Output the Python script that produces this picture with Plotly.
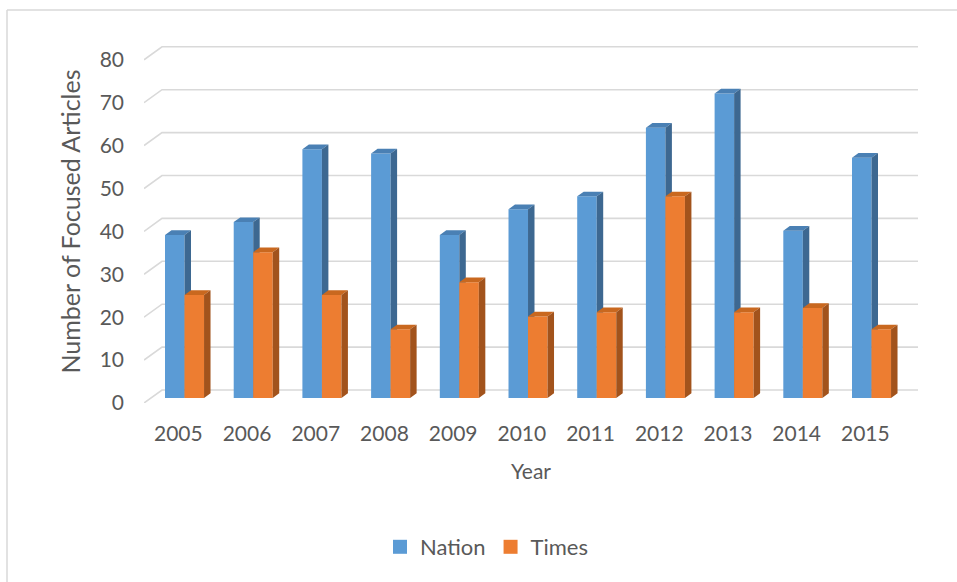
import plotly.graph_objects as go

# ---------------- data ----------------
years = ["2005", "2006", "2007", "2008", "2009", "2010", "2011", "2012", "2013", "2014", "2015"]
nation = [38, 41, 58, 57, 38, 44, 47, 63, 71, 39, 56]
times = [24, 34, 24, 16, 27, 19, 20, 47, 20, 21, 16]
y_ticks = [0, 10, 20, 30, 40, 50, 60, 70, 80]

# ---------------- geometry (styling) ----------------
W, H = 957, 582
PX_CAT = 68.7      # pixels per category
PX_UNIT = 4.29     # pixels per value unit
DEPTH_X, DEPTH_Y = 18.0, 13.0   # oblique offset of full depth (pixels)
PLOT_L, PLOT_R = 144, 918
PLOT_T, PLOT_B = 40, 403

def shift(d):
    return DEPTH_X * d / PX_CAT, DEPTH_Y * d / PX_UNIT

D_FRONT, D_BACK = 0.385, 0.745
fx, fy = shift(D_FRONT)
bx, by = shift(D_BACK)
ddx, ddy = bx - fx, by - fy
BW = 0.284
LEFT_OFF = fx - 0.295

x_min = -0.5
x_max = x_min + (PLOT_R - PLOT_L) / PX_CAT
y_max = (PLOT_B - PLOT_T) / PX_UNIT

FONT = "Lato"
TXT = "#595959"
GRID = "#d9d9d9"

fig = go.Figure()

# gridlines: side wall diagonal + back wall line
wx, wy = shift(1.0)
gx, gy = [], []
for t in y_ticks:
    gx += [x_min, x_min + wx, x_max, None]
    gy += [t, t + wy, t + wy, None]
fig.add_trace(go.Scatter(x=gx, y=gy, mode="lines", line=dict(color=GRID, width=1.6),
                         hoverinfo="skip", showlegend=False))


def faces(values, series_idx):
    front_x, front_y, top_x, top_y, side_x, side_y = [], [], [], [], [], []
    for i, v in enumerate(values):
        L = i + LEFT_OFF + series_idx * BW
        R = L + BW
        b = fy
        t = v + fy
        front_x += [L, R, R, L, L, None]
        front_y += [b, b, t, t, b, None]
        top_x += [L, R, R + ddx, L + ddx, L, None]
        top_y += [t, t, t + ddy, t + ddy, t, None]
        side_x += [R, R, R + ddx, R + ddx, R, None]
        side_y += [b, t, t + ddy, b + ddy, b, None]
    return (front_x, front_y), (top_x, top_y), (side_x, side_y)


series = [("Nation", nation, ("#5B9BD5", "#4A80B4", "#3D6891")),
          ("Times", times, ("#ED7D31", "#C9681F", "#A2531C"))]

for idx, (name, vals, cols) in enumerate(series):
    f, tp, sd = faces(vals, idx)
    for (xs, ys), c in zip((f, tp, sd), cols):
        fig.add_trace(go.Scatter(x=xs, y=ys, mode="lines", fill="toself", fillcolor=c,
                                 line=dict(width=0, color=c), hoverinfo="skip",
                                 showlegend=False, name=name))

# legend entries
for name, vals, cols in series:
    fig.add_trace(go.Scatter(x=[None], y=[None], mode="markers", name=name,
                             marker=dict(symbol="square", size=14, color=cols[0])))

# frame border (top and left edges visible in the reference)
def px2paper_x(px):
    return (px - PLOT_L) / (PLOT_R - PLOT_L)

def px2paper_y(py):
    return (PLOT_B - py) / (PLOT_B - PLOT_T)

border = dict(color=GRID, width=1.5)
fig.add_shape(type="line", xref="paper", yref="paper", x0=px2paper_x(7), x1=px2paper_x(7),
              y0=px2paper_y(10), y1=px2paper_y(600), line=border)
fig.add_shape(type="line", xref="paper", yref="paper", x0=px2paper_x(7), x1=px2paper_x(970),
              y0=px2paper_y(10), y1=px2paper_y(10), line=border)

fig.update_layout(
    width=W, height=H,
    margin=dict(l=PLOT_L, r=W - PLOT_R, t=PLOT_T, b=H - PLOT_B, autoexpand=False),
    paper_bgcolor="white", plot_bgcolor="white",
    font=dict(family=FONT, color=TXT, size=21),
    xaxis=dict(range=[x_min, x_max], tickmode="array", tickvals=list(range(len(years))),
               ticktext=years, showgrid=False, zeroline=False, showline=False,
               ticks="", ticklabelstandoff=16, tickfont=dict(size=21),
               title=dict(text="Year", font=dict(size=21), standoff=20)),
    yaxis=dict(range=[0, y_max], tickmode="array", tickvals=y_ticks, showgrid=False,
               zeroline=False, showline=False, ticks="", ticklabelstandoff=19,
               tickfont=dict(size=21),
               title=dict(text="Number of Focused Articles", font=dict(size=25), standoff=11)),
    legend=dict(orientation="h", x=px2paper_x(487), xanchor="center",
                y=px2paper_y(547), yanchor="middle", font=dict(size=22),
                bgcolor="rgba(0,0,0,0)"),
    showlegend=True,
)

fig.write_html("out.html", config={"displayModeBar": False})
